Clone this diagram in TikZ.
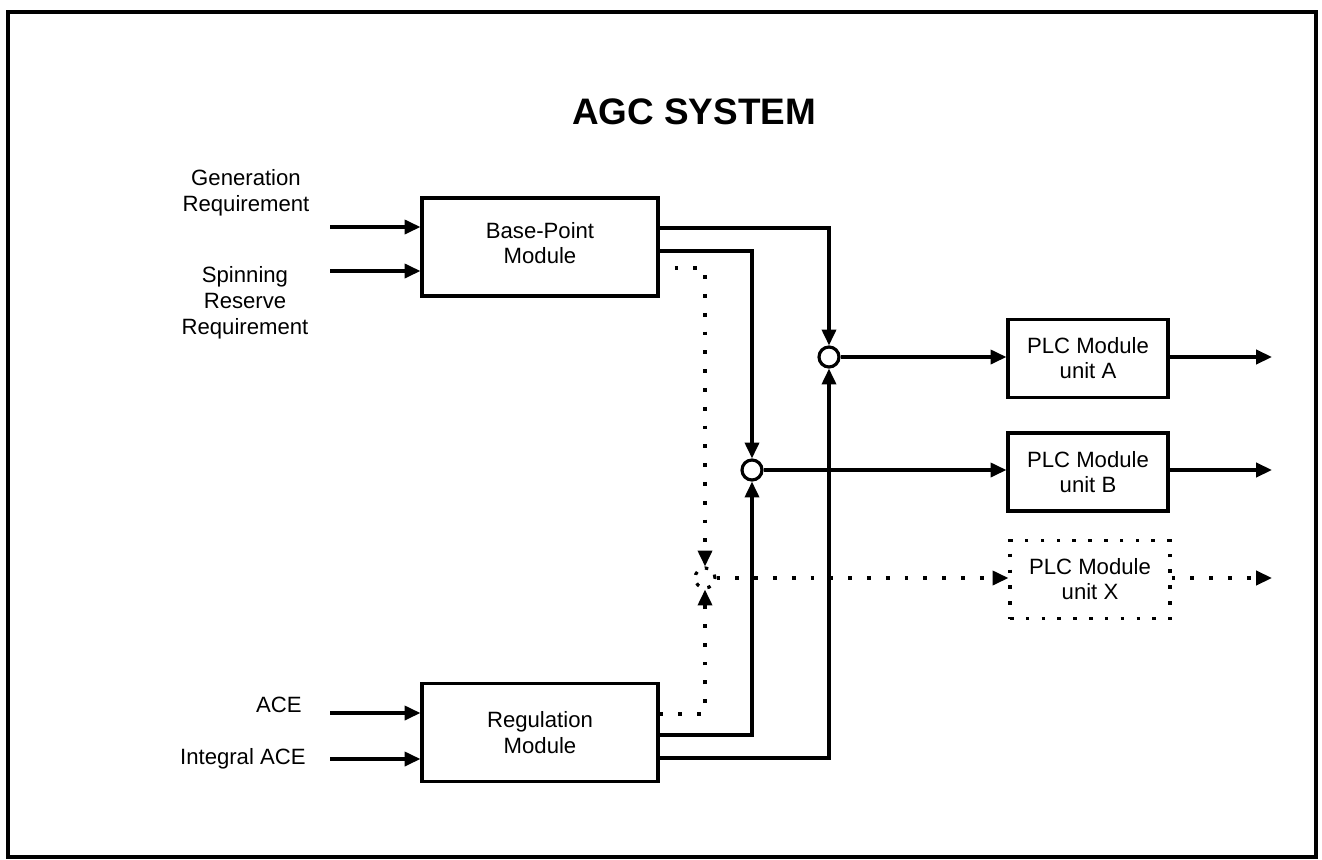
\documentclass[tikz,border=0pt]{standalone}
\usepackage{fontspec}
\setmainfont{Liberation Sans}
\usetikzlibrary{arrows.meta,positioning,calc}
\tikzset{
    modblock/.style={rectangle,draw,line width=1.8pt,align=center,minimum width=4.72cm,minimum height=1.96cm,font=\fontsize{12.6}{14.7}\selectfont},
    plcblock/.style={rectangle,draw,line width=1.8pt,align=center,minimum width=3.2cm,minimum height=1.56cm,font=\fontsize{12.6}{14.2}\selectfont},
    plcdotted/.style={plcblock,dash pattern=on 2pt off 7pt},
    sumnode/.style={circle,draw,line width=1.8pt,fill=white,minimum size=0.4cm,inner sep=0pt},
    sumdotted/.style={circle,draw,line width=1.8pt,dash pattern=on 2pt off 5pt,minimum size=0.4cm,inner sep=0pt},
    inlabel/.style={align=center,font=\fontsize{12.6}{14.7}\selectfont},
    sigline/.style={-{Triangle[length=9pt,width=8pt]},line width=1.9pt},
    sigdot/.style={-{Triangle[length=9pt,width=8pt]},line width=1.9pt,dash pattern=on 2.2pt off 8.5pt}
}
\begin{document}
\begin{tikzpicture}[x=0.02cm,y=-0.02cm]
    \useasboundingbox (0,0) rectangle (1322,859);
    \draw[line width=2.2pt] (8,12) rectangle (1316,857);
    \node[font=\fontsize{21}{25}\selectfont\bfseries] (title) at (694,112) {AGC SYSTEM};
    % modules
    \node[modblock] (bp) at (540,247) {};
    \node[inlabel] (bptext) at (540,243) {Base-Point\\Module};
    \node[modblock] (reg) at (540,732.5) {Regulation\\Module};
    \node[plcblock] (plcA) at (1088,358.5) {PLC Module\\unit A};
    \node[plcblock] (plcB) at (1088,472) {PLC Module\\unit B};
    \node[plcdotted] (plcX) at (1090,579.5) {PLC Module\\unit X};
    % summing points
    \node[sumnode] (sa) at (829,357) {};
    \node[sumnode] (sb) at (752,470) {};
    \node[sumdotted] (sx) at (705,578) {};
    % inputs
    \node[inlabel] (gen) at (246,193) {Generation\\Requirement};
    \node[inlabel] (spin) at (245,303) {Spinning\\Reserve\\Requirement};
    \node[inlabel,anchor=east,inner xsep=0pt] (ace) at (302,705) {ACE};
    \node[inlabel,anchor=east,inner xsep=0pt] (iace) at (306,759) {Integral ACE};
    \coordinate (genin) at (330,227);
    \coordinate (spinin) at (330,271);
    \coordinate (acein) at (330,713);
    \coordinate (iacein) at (330,759);
    \draw[sigline] (genin) -- (genin -| bp.west);
    \draw[sigline] (spinin) -- (spinin -| bp.west);
    \draw[sigline] (acein) -- (acein -| reg.west);
    \draw[sigline] (iacein) -- (iacein -| reg.west);
    % module outputs to summing points
    \draw[sigline] ($(bp.east)+(0,-19)$) -| (sa.north);
    \draw[sigline] ($(bp.east)+(0,4)$) -| (sb.north);
    \draw[sigdot] ($(bp.east)+(15,21)$) -| (sx.north);
    \draw[sigline] ($(reg.east)+(0,25.5)$) -| (sa.south);
    \draw[sigline] ($(reg.east)+(0,2.5)$) -| (sb.south);
    \draw[sigdot] ($(reg.east)+(0,-18.5)$) -| (sx.south);
    % summing points to PLC modules
    \draw[sigline] (sa.east) -- (sa -| plcA.west);
    \draw[sigline] (sb.east) -- (sb -| plcB.west);
    \draw[sigdot] (sx.east) -- (sx -| plcX.west);
    % PLC outputs
    \coordinate (outA) at (1272,357);
    \coordinate (outB) at (1272,470);
    \coordinate (outX) at (1272,578);
    \draw[sigline] (plcA.east |- outA) -- (outA);
    \draw[sigline] (plcB.east |- outB) -- (outB);
    \draw[sigdot] (plcX.east |- outX) -- (outX);
\end{tikzpicture}
\end{document}
